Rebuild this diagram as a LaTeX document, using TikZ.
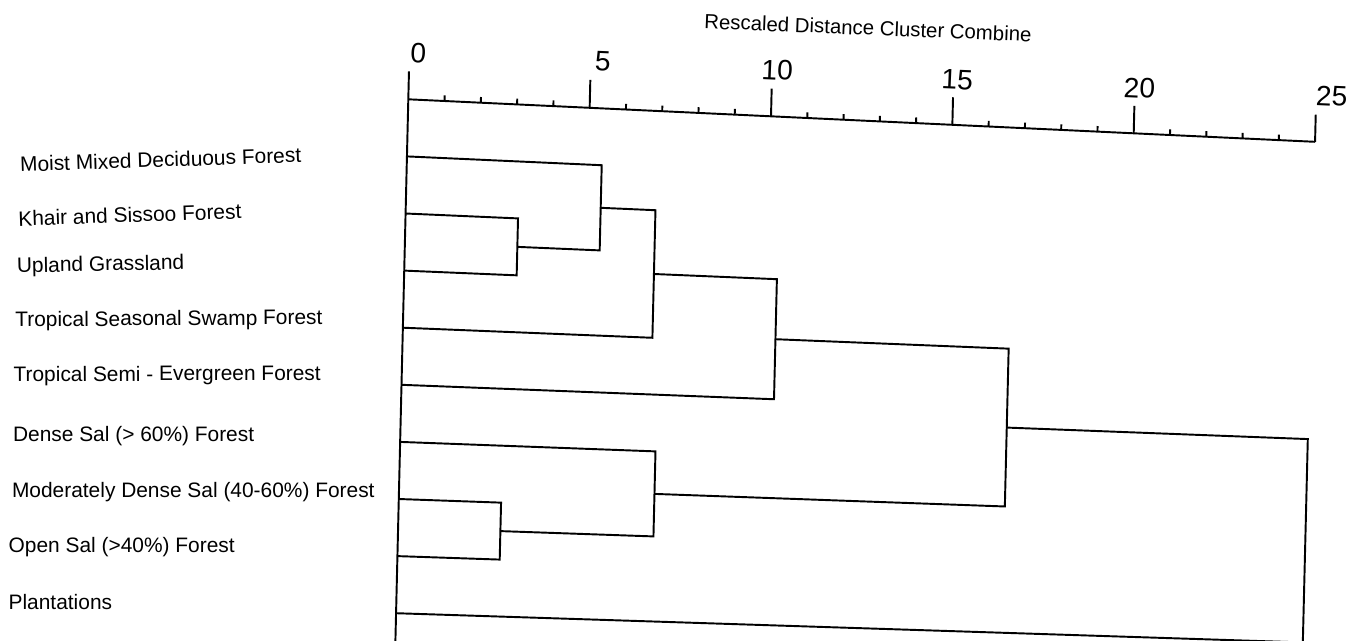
\documentclass[tikz,border=0pt]{standalone}
\usepackage{fontspec}
\setmainfont{Liberation Sans}
\usepackage{tikz}
\usetikzlibrary{positioning}

% point at distance #2, row #3 of the (slightly skewed) scan
\newcommand{\dpt}[3]{\coordinate (#1) at ({408.3+36.27*(#2)-1.36*(#3)},{99.3+1.70*(#2)+57.1*(#3)-0.059*(#2)*(#3)});}

\begin{document}
\begin{tikzpicture}[
  x=0.02cm, y=-0.02cm,
  line/.style={line width=1.1pt},
  leaf/.style={anchor=base west, inner sep=0pt, font=\fontsize{11.9}{14}\selectfont},
  num/.style={inner sep=0pt, rotate=-2.5, font=\fontsize{16}{19}\selectfont},
  ttl/.style={inner sep=0pt, rotate=-2.3, font=\fontsize{11.6}{14}\selectfont}
]
  \useasboundingbox (0,0) rectangle (1361,640);

  % scale
  \foreach \k in {0,...,25}{\dpt{t\k}{\k}{0}\dpt{u\k}{\k}{-0.1}}
  \foreach \k in {0,5,...,25}{\dpt{u\k}{\k}{-0.49}}
  \dpt{bot}{0}{9.7}
  \draw[line] (t0) -- (t25);
  \foreach \k in {1,...,25}{\draw[line] (t\k) -- (u\k);}
  \draw[line] (u0) -- (bot);
  \foreach \k/\px/\py in {0/418.3/52.8, 5/602.8/61.2, 10/777.2/70.2, 15/957.2/79.5, 20/1139.5/88.3, 25/1331.7/96.3}
    \node[num] (n\k) at (\px,\py) {\k};
  \node[ttl] (title) at (868,27.8) {Rescaled Distance Cluster Combine};

  % leaves
  \foreach \i in {1,...,9}{\dpt{l\i}{0}{\i}}
  \node[leaf, rotate=1.9] (lab1) at (20,171.7) {Moist Mixed Deciduous Forest};
  \node[leaf, rotate=2.0] (lab2) at (18.3,226.3) {Khair and Sissoo Forest};
  \node[leaf, rotate=1.2] (lab3) at (16.7,272.8) {Upland Grassland};
  \node[leaf, rotate=0.4] (lab4) at (15,326.7) {Tropical Seasonal Swamp Forest};
  \node[leaf, rotate=0.3] (lab5) at (13.3,381.7) {Tropical Semi - Evergreen Forest};
  \node[leaf] (lab6) at (12.7,441) {Dense Sal (> 60\%) Forest};
  \node[leaf] (lab7) at (11.7,497) {Moderately Dense Sal (40-60\%) Forest};
  \node[leaf] (lab8) at (8.3,552) {Open Sal (>40\%) Forest};
  \node[leaf] (lab9) at (8.3,609) {Plantations};

  % clusters
  \dpt{a2}{3.1}{2}\dpt{a3}{3.1}{3}\dpt{a}{3.1}{2.5}
  \dpt{b1}{5.37}{1}\dpt{b2}{5.37}{2.5}\dpt{b}{5.37}{1.75}
  \dpt{c1}{6.88}{1.75}\dpt{c2}{6.88}{4}\dpt{c}{6.88}{2.875}
  \dpt{d1}{10.27}{2.875}\dpt{d2}{10.27}{5}\dpt{d}{10.27}{3.9375}
  \dpt{e1}{2.82}{7}\dpt{e2}{2.82}{8}\dpt{e}{2.82}{7.5}
  \dpt{f1}{7.04}{6}\dpt{f2}{7.04}{7.5}\dpt{f}{7.04}{6.75}
  \dpt{g1}{16.7}{3.9375}\dpt{g2}{16.7}{6.75}\dpt{g}{16.7}{5.344}
  \dpt{h1}{25}{5.344}\dpt{h2}{25}{9}
  \draw[line] (l2) -- (a2) -- (a3) -- (l3);
  \draw[line] (l1) -- (b1) -- (b2) -- (a);
  \draw[line] (b) -- (c1) -- (c2) -- (l4);
  \draw[line] (c) -- (d1) -- (d2) -- (l5);
  \draw[line] (l7) -- (e1) -- (e2) -- (l8);
  \draw[line] (l6) -- (f1) -- (f2) -- (e);
  \draw[line] (d) -- (g1) -- (g2) -- (f);
  \draw[line] (g) -- (h1) -- (h2) -- (l9);
\end{tikzpicture}
\end{document}
